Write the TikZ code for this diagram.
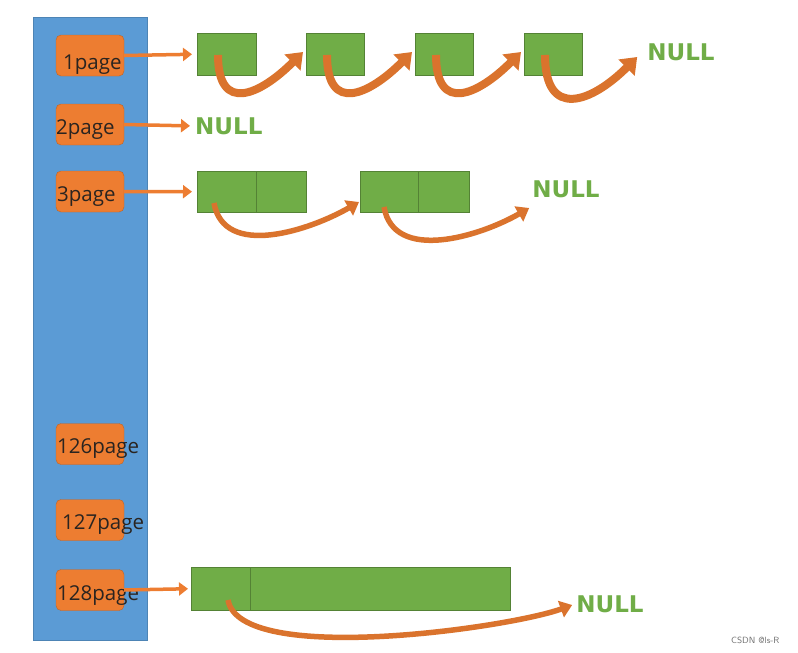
\documentclass[tikz,border=0pt]{standalone}
\usepackage{fontspec}
\usepackage{tikz}
\usetikzlibrary{arrows.meta,positioning,calc}
\newfontfamily\pglabelfont{Open Sans}
\newfontfamily\nullwordfont{DejaVu Sans}
\definecolor{barblue}{HTML}{5B9BD5}
\definecolor{pageorange}{HTML}{ED7D31}
\definecolor{cellgreen}{HTML}{70AD47}
\definecolor{labeltext}{HTML}{2A2420}
\tikzset{
	pagebox/.style={draw=pageorange!80!black, fill=pageorange, rounded corners=5pt, minimum width=68pt, minimum height=41pt, inner sep=0pt},
	pagelabel/.style={font=\pglabelfont\fontsize{20.5}{24}\selectfont, text=labeltext, anchor=west, inner sep=0pt},
	cell/.style={draw=cellgreen!75!black, fill=cellgreen, anchor=north west, inner sep=0pt, minimum height=42pt},
	nullword/.style={font=\nullwordfont\bfseries\fontsize{23}{26}\selectfont, text=cellgreen, inner sep=0pt},
	ptr/.style={draw=pageorange, line width=3.5pt, -{Triangle[length=9pt,width=13pt]}, shorten >=5pt},
	hop/.style={draw=pageorange!92!black, line width=8pt, -{Triangle[length=15pt,width=22pt]}},
	longhop/.style={draw=pageorange!92!black, line width=5.5pt, -{Triangle[length=12pt,width=17pt]}}
}
\begin{document}
\begin{tikzpicture}[x=1pt,y=1pt]
		\useasboundingbox (0,0) rectangle (798,-653);
		
		% free list array
		\node[draw=barblue!85!black, fill=barblue, anchor=north west, minimum width=114pt, minimum height=623pt, inner sep=0pt] (bar) at (33,-17) {};
		
		\node[pagebox] (p1) at (90,-55.5) {};
		\node[pagebox] (p2) at (90,-124.5) {};
		\node[pagebox] (p3) at (90,-191.5) {};
		\node[pagebox] (p126) at (90,-444) {};
		\node[pagebox] (p127) at (90,-520) {};
		\node[pagebox] (p128) at (90,-590) {};
		
		\node[pagelabel] (t1) at (63,-65) {1page};
		\node[pagelabel] (t2) at (56,-130) {2page};
		\node[pagelabel] (t3) at (57,-197) {3page};
		\node[pagelabel] (t126) at (57,-449) {126page};
		\node[pagelabel] (t127) at (62,-525) {127page};
		\node[pagelabel] (t128) at (57,-596) {128page};
		
		% spans of 1 page
		\node[cell, minimum width=59pt] (c11) at (197,-33) {};
		\node[cell, minimum width=58pt] (c12) at (306,-33) {};
		\node[cell, minimum width=58pt] (c13) at (415,-33) {};
		\node[cell, minimum width=58pt] (c14) at (524,-33) {};
		\node[nullword] (n1) at (681,-52) {NULL};
		
		% spans of 2 pages
		\node[nullword, anchor=west] (n2) at (195,-126) {NULL};
		
		% spans of 3 pages
		\node[cell, minimum width=59pt, minimum height=41pt] (c31) at (197,-171) {};
		\node[cell, minimum width=50pt, minimum height=41pt] (c31b) at (256,-171) {};
		\node[cell, minimum width=58pt, minimum height=41pt] (c32) at (360,-171) {};
		\node[cell, minimum width=51pt, minimum height=41pt] (c32b) at (418,-171) {};
		\node[nullword] (n3) at (566,-189) {NULL};
		
		% spans of 128 pages
		\node[cell, minimum width=319pt, minimum height=43pt] (c128) at (191,-567) {};
		\node[cell, minimum width=59pt, minimum height=43pt] (c128a) at (191,-567) {};
		\node[nullword] (n128) at (610,-604) {NULL};
		
		\draw[ptr] (p1.east) -- (c11.west);
		\draw[ptr] (p2.east) -- (n2.west);
		\draw[ptr] (p3.east) -- (c31.west);
		\draw[ptr, shorten >=3pt] (p128.east) -- (c128.west);
		
		\draw[hop] ([xshift=21pt,yshift=-22pt]c11.north west) to[out=-90,in=-135,looseness=1.8] ([xshift=-3pt,yshift=-19pt]c12.north west);
		\draw[hop] ([xshift=21pt,yshift=-22pt]c12.north west) to[out=-90,in=-135,looseness=1.8] ([xshift=-3pt,yshift=-19pt]c13.north west);
		\draw[hop] ([xshift=21pt,yshift=-22pt]c13.north west) to[out=-90,in=-135,looseness=1.8] ([xshift=-3pt,yshift=-19pt]c14.north west);
		\draw[hop] ([xshift=21pt,yshift=-22pt]c14.north west) to[out=-90,in=-135,looseness=1.8] ([xshift=-10pt,yshift=-5pt]n1.west);
		
		\draw[longhop] ([xshift=17pt,yshift=-32pt]c31.north west) to[out=-80,in=-150,looseness=1] ([xshift=-1pt,yshift=-31pt]c32.north west);
		\draw[longhop] ([xshift=24pt,yshift=-36pt]c32.north west) to[out=-80,in=-150,looseness=1] ([xshift=-3pt,yshift=-19pt]n3.west);
		
		\draw[longhop] ([xshift=37pt,yshift=-33pt]c128.north west) to[out=-80,in=-160,looseness=0.5] ([xshift=-4pt,yshift=-1pt]n128.west);
		
		\node[font=\sffamily\fontsize{9}{10}\selectfont, text=black!55, anchor=east] (mark) at (783,-640) {CSDN @ls-R};
		
\end{tikzpicture}
\end{document}
